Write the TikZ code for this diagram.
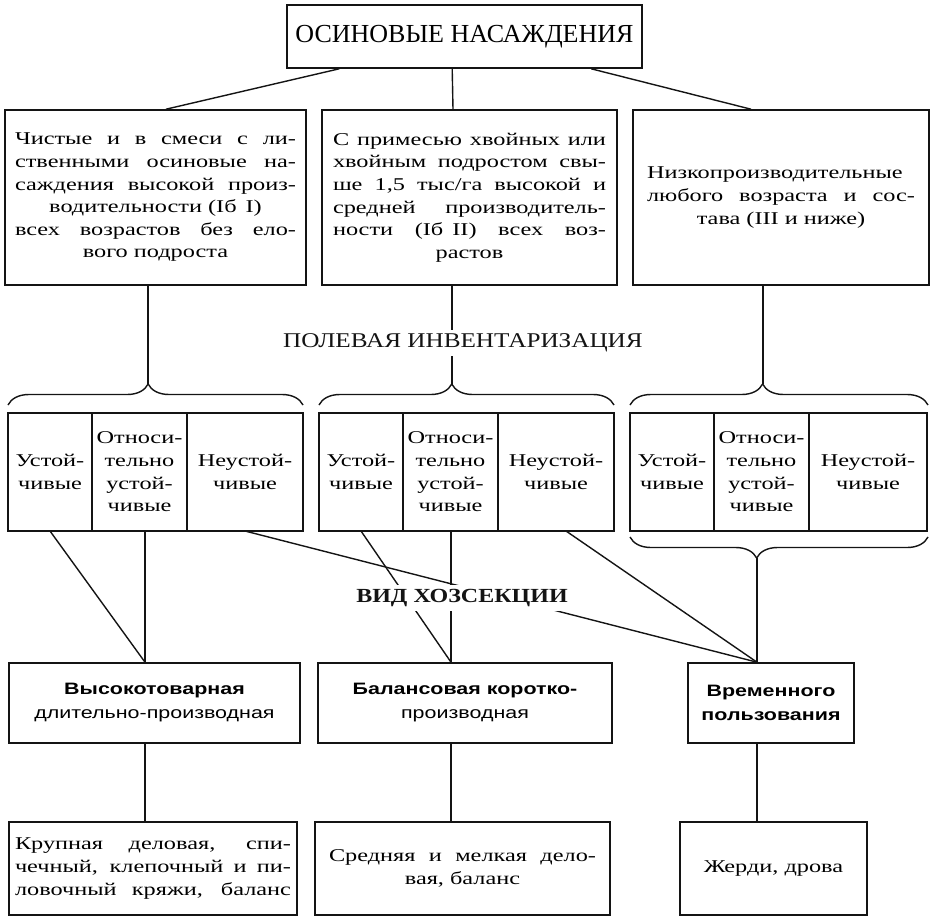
\documentclass[tikz,border=0pt]{standalone}
\usepackage{fontspec}
\setmainfont{Liberation Serif}[FakeStretch=1.35]
\newfontfamily\titlefont{Liberation Serif}
\newfontfamily\headfont{Liberation Serif}[FakeStretch=1.2]
\newfontfamily\hozfont{Liberation Sans}[FakeStretch=1.3]
\definecolor{ink}{rgb}{0.08, 0.08, 0.08}
\usepackage{tikz}
\usetikzlibrary{calc}
\usetikzlibrary{positioning, decorations.pathreplacing}
\setlength{\parindent}{0pt}
\newcommand{\jline}[1]{\makebox[\hsize][s]{\spaceskip=0.25em plus 1fil\relax #1}}

\begin{document}
\begin{tikzpicture}[x=1pt, y=1pt]
	% ------------------------------------------------------------------
	% STYLE DEFINITIONS
	% ------------------------------------------------------------------
	\tikzset{
		box/.style  = {draw=ink, line width=1.6pt, inner sep=0pt, align=center,
		               font=\fontsize{18}{22.6}\selectfont},
		cell/.style = {box, outer sep=0pt, minimum height=118pt, anchor=north west},
		hoz/.style  = {box, minimum height=80pt, font=\hozfont\fontsize{16.5}{24}\selectfont},
		link/.style = {draw=ink, line width=1.4pt},
		brc/.style  = {draw=ink, line width=1.4pt, decorate,
		               decoration={brace, amplitude=21pt, aspect=#1}},
		tag/.style  = {fill=white, inner sep=4pt, text=ink}
	}
	\useasboundingbox (0,0) rectangle (931,-916);
	
	% --- Top node ---
	\node[box, minimum width=355pt, minimum height=63pt,
	      font=\titlefont\fontsize{26}{30}\selectfont] (title) at (464.5,-36.5) {ОСИНОВЫЕ НАСАЖДЕНИЯ};
	
	% --- Stand groups ---
	\node[box, minimum width=301pt, minimum height=175pt, text width=281pt] (b1) at (155.5,-197.5)
	{\jline{Чистые и в смеси с ли-}\\
	 \jline{ственными осиновые на-}\\
	 \jline{саждения высокой произ-}\\
	 водительности (Iб\enspace I)\\
	 \jline{всех возрастов без ело-}\\
	 вого подроста};
	\node[box, minimum width=295pt, minimum height=175pt, text width=273pt] (b2) at (469.5,-197.5)
	{\jline{С примесью хвойных или}\\
	 \jline{хвойным подростом свы-}\\
	 \jline{ше 1,5 тыс/га высокой и}\\
	 \jline{средней производитель-}\\
	 \jline{ности (Iб\enspace II) всех воз-}\\
	 растов};
	\node[box, minimum width=296pt, minimum height=175pt, text width=268pt] (b3) at (781,-197.5)
	{\jline{Низкопроизводительные}\\
	 \jline{любого возраста и сос-}\\
	 тава (III и ниже)};
	
	\draw[link] ($(title.south west)+(53,0)$) -- ($(b1.north)+(10.5,0)$);
	\draw[link] ($(title.south west)+(166,0)$) -- ($(b2.north)+(-16.5,0)$);
	\draw[link] ($(title.south west)+(305,0)$) -- ($(b3.north)+(-30,0)$);
	
	% --- Stability cells, three per group ---
	\foreach \x/\g/\wn in {8/a/116, 319/b/116, 630/c/118} {
		\node[cell, minimum width=84pt] (u\g) at (\x,-413) {Устой-\\чивые};
		\node[cell, minimum width=95pt] (o\g) at (u\g.north east) {Относи-\\тельно\\устой-\\чивые};
		\node[cell, minimum width=\wn pt] (n\g) at (o\g.north east) {Неустой-\\чивые};
	}
	
	% Braces
	\draw[brc=0.475] (8,-405) -- (303,-405);
	\draw[brc=0.45] (319,-405) -- (614,-405);
	\draw[brc=0.445] (630,-405) -- (928,-405);
	\draw[brc=0.575] (928,-537) -- (630,-537);
	\coordinate (ta) at (148,-384);
	\coordinate (tb) at (452,-384);
	\coordinate (tc) at (763,-384);
	\coordinate (td) at (757,-558);
	
	\draw[link] (b1.south -| ta) -- (ta);
	\draw[link] (b2.south -| tb) -- (tb);
	\draw[link] (b3.south -| tc) -- (tc);
	
	% --- Section types ---
	\node[hoz, minimum width=291pt] (v1) at (154.5,-703)
	{\textbf{Высокотоварная}\\длительно-производная};
	\node[hoz, minimum width=294pt] (v2) at (465,-703)
	{\textbf{Балансовая коротко-}\\производная};
	\node[hoz, minimum width=166pt] (v3) at (771,-703)
	{\textbf{Временного}\\\textbf{пользования}};
	\coordinate (v1in) at ($(v1.north)+(-9.5,0)$);
	\coordinate (v2in) at ($(v2.north)+(-14,0)$);
	\coordinate (v3in) at ($(v3.north)+(-14,0)$);
	
	\draw[link] (ua.south) -- (v1in);
	\draw[link] (oa.south -| v1in) -- (v1in);
	\draw[link] (na.south) -- (v3in);
	\draw[link] (ub.south) -- (v2in);
	\draw[link] (ob.south -| v2in) -- (v2in);
	\draw[link] ($(nb.south)+(10,0)$) -- (v3in);
	\draw[link] (td) -- (v3in);
	
	% --- Assortment ---
	\node[box, minimum width=288pt, minimum height=93pt, text width=276pt] (p1) at (153,-868.5)
	{\jline{Крупная деловая, спи-}\\
	 \jline{чечный, клепочный и пи-}\\
	 \jline{ловочный кряжи, баланс}};
	\node[box, minimum width=295pt, minimum height=93pt, text width=267pt] (p2) at (462.5,-868.5)
	{\jline{Средняя и мелкая дело-}\\
	 вая, баланс};
	\node[box, minimum width=187pt, minimum height=93pt] (p3) at (773.5,-868.5) {Жерди, дрова};
	
	\draw[link] (v1.south -| v1in) -- (p1.north -| v1in);
	\draw[link] (v2.south -| v2in) -- (p2.north -| v2in);
	\draw[link] (v3.south -| v3in) -- (p3.north -| v3in);
	
	% Labels over the lines
	\node[tag, font=\headfont\fontsize{21}{25}\selectfont] (fld) at (463,-343) {ПОЛЕВАЯ ИНВЕНТАРИЗАЦИЯ};
	\node[tag, font=\headfont\bfseries\fontsize{20}{24}\selectfont] (vid) at (462,-598) {ВИД ХОЗСЕКЦИИ};
	
\end{tikzpicture}
\end{document}
